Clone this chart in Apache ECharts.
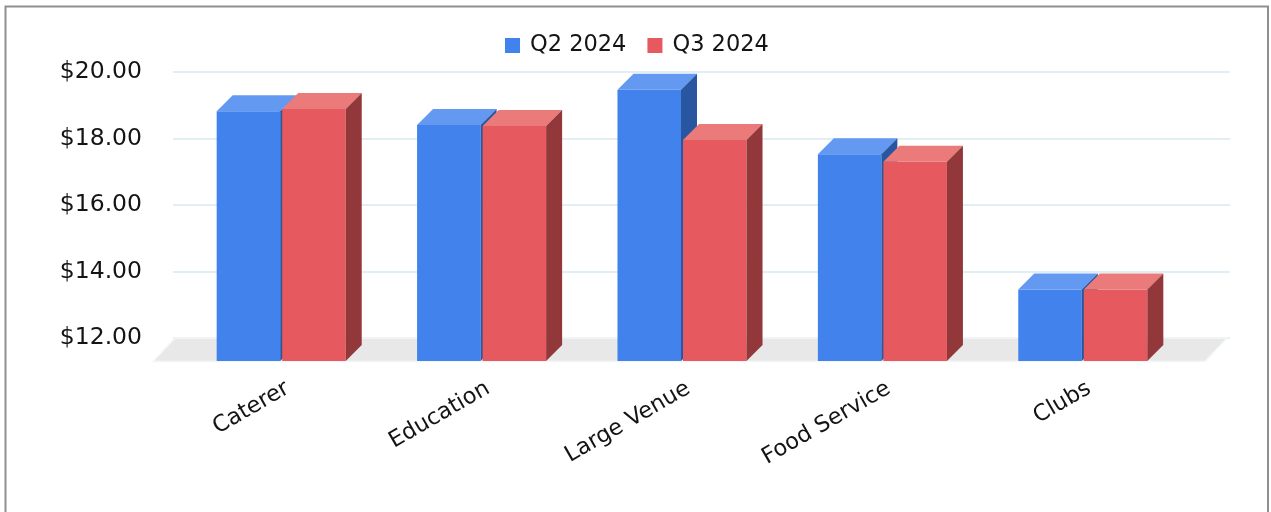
<!DOCTYPE html>
<html>
<head>
<meta charset="utf-8">
<script src="https://cdn.jsdelivr.net/npm/echarts@6/dist/echarts.min.js"></script>
<style>
html,body{margin:0;padding:0;background:#fff;}
#chart{width:1271px;height:512px;}
</style>
</head>
<body>
<div id="chart"></div>
<script>
const categories = ['Caterer', 'Education', 'Large Venue', 'Food Service', 'Clubs'];
const seriesNames = ['Q2 2024', 'Q3 2024'];
const q2Values = [19.51, 19.10, 20.16, 18.22, 14.15];
const q3Values = [19.58, 19.07, 18.65, 17.99, 14.15];
const yTicks = [12, 14, 16, 18, 20];

const FONT = 'DejaVu Sans';
const TEXT = '#141414';
const palettes = [
  {front: '#4282ED', top: '#6399F0', side: '#2856A0'},
  {front: '#E5595F', top: '#EB7A7B', side: '#92383A'}
];
const DEPTH = 16;
const BAR_RATIO = 0.322;
const GAP = 1;
const yMin = yTicks[0], yMax = yTicks[yTicks.length - 1];

function makeBarRenderer(idx) {
  return function (params, api) {
    const cat = api.value(0), val = api.value(1);
    const top = api.coord([cat, val]);
    const base = api.coord([cat, yMin]);
    const w = api.size([1, 0])[0] * BAR_RATIO - GAP;
    const x0 = idx === 0 ? top[0] - w - GAP : top[0] + GAP;
    const x1 = x0 + w;
    const p = palettes[idx];
    return {
      type: 'group',
      children: [
        {type: 'rect', shape: {x: x0, y: top[1], width: w, height: base[1] - top[1]}, style: {fill: p.front}},
        {type: 'polygon', shape: {points: [[x0, top[1]], [x0 + DEPTH, top[1] - DEPTH], [x1 + DEPTH, top[1] - DEPTH], [x1, top[1]]]}, style: {fill: p.top}},
        {type: 'polygon', shape: {points: [[x1, top[1]], [x1 + DEPTH, top[1] - DEPTH], [x1 + DEPTH, base[1] - DEPTH], [x1, base[1]]]}, style: {fill: p.side}}
      ]
    };
  };
}

function renderFloor(params, api) {
  const cs = params.coordSys;
  const by = cs.y + cs.height;
  const lx = cs.x + 2, rx = cs.x + cs.width - 3;
  const dx = -22, dy = 23.5;
  return {
    type: 'polygon',
    shape: {points: [[lx, by], [rx, by], [rx + dx, by + dy], [lx + dx, by + dy]]},
    style: {fill: '#E8E8E8', stroke: '#F4F6F7', lineWidth: 1.5}
  };
}

const chart = echarts.init(document.getElementById('chart'));
chart.setOption({
  backgroundColor: '#ffffff',
  animation: false,
  textStyle: {fontFamily: FONT},
  graphic: [{
    type: 'rect', silent: true, z: 100,
    shape: {x: 5.5, y: 6.5, width: 1262.5, height: 515},
    style: {fill: 'none', stroke: '#8f8f8f', lineWidth: 2}
  }],
  legend: {
    data: seriesNames,
    left: 500, top: 29,
    icon: 'rect', itemWidth: 15, itemHeight: 15, itemGap: 21,
    textStyle: {fontSize: 22.5, color: TEXT, fontFamily: FONT, padding: [0, 0, 0, 5]}
  },
  grid: [
    {left: 173, right: 41, top: 72, bottom: 174},
    {left: 181, right: 88, top: 95, bottom: 151},
    {left: 187.5, right: 81.5, top: 95, bottom: 151}
  ],
  xAxis: [
    {type: 'category', gridIndex: 0, data: categories, show: false},
    {type: 'category', gridIndex: 1, data: categories, show: false},
    {type: 'category', gridIndex: 2, data: categories,
     axisLine: {show: false}, axisTick: {show: false},
     axisLabel: {interval: 0, rotate: 30, margin: 26, fontSize: 22.5, color: TEXT, fontFamily: FONT}}
  ],
  yAxis: [
    {type: 'value', gridIndex: 0, min: yMin, max: yMax, interval: 2,
     axisLine: {show: false}, axisTick: {show: false},
     axisLabel: {margin: 31, fontSize: 23.5, color: TEXT, fontFamily: FONT,
                 formatter: v => '$' + v.toFixed(2)},
     splitLine: {lineStyle: {color: '#E2EEF6', width: 2}}},
    {type: 'value', gridIndex: 1, min: yMin, max: yMax, show: false, splitLine: {show: false}},
    {type: 'value', gridIndex: 2, min: yMin, max: yMax, show: false, splitLine: {show: false}}
  ],
  series: [
    {type: 'custom', name: 'floor', xAxisIndex: 0, yAxisIndex: 0, silent: true,
     data: [[0, yMin]], renderItem: renderFloor, clip: false, z: 1},
    {type: 'custom', name: seriesNames[0], xAxisIndex: 1, yAxisIndex: 1, clip: false, z: 2,
     itemStyle: {color: palettes[0].front},
     encode: {x: 0, y: 1},
     data: categories.map((c, i) => [i, q2Values[i]]),
     renderItem: makeBarRenderer(0)},
    {type: 'custom', name: seriesNames[1], xAxisIndex: 1, yAxisIndex: 1, clip: false, z: 3,
     itemStyle: {color: palettes[1].front},
     encode: {x: 0, y: 1},
     data: categories.map((c, i) => [i, q3Values[i]]),
     renderItem: makeBarRenderer(1)}
  ]
});
</script>
</body>
</html>
